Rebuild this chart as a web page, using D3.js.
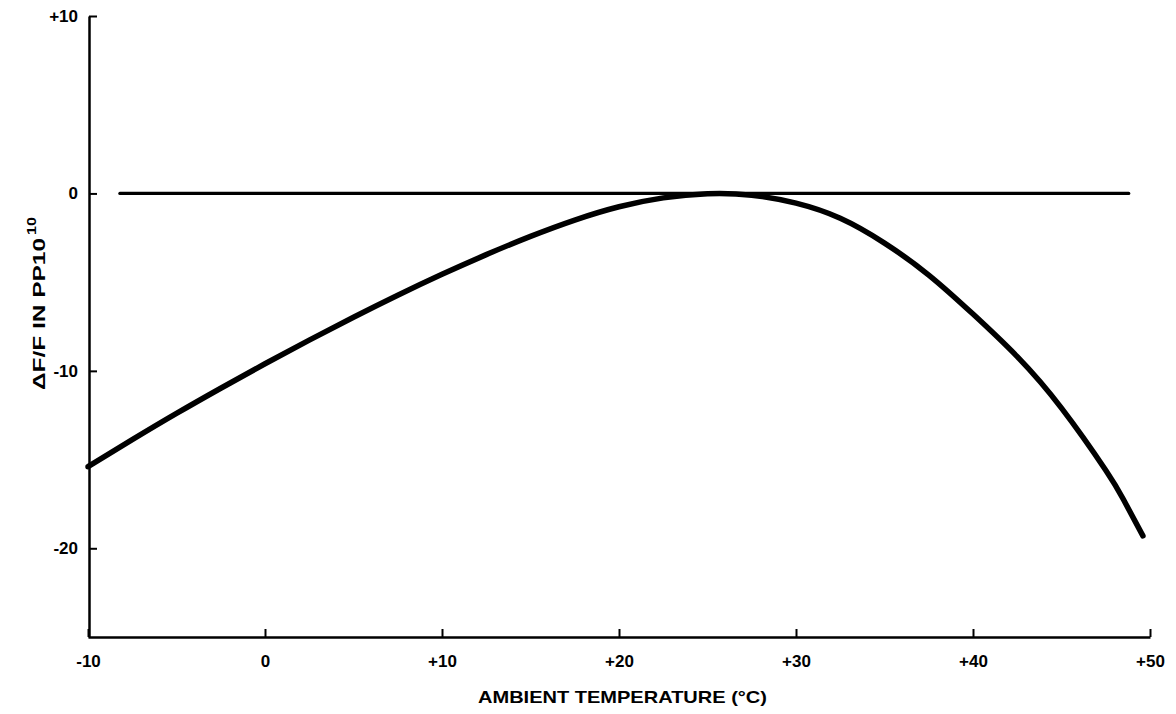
<!DOCTYPE html>
<html>
<head>
<meta charset="utf-8">
<script src="https://cdn.jsdelivr.net/npm/d3@7"></script>
<style>
  html, body { margin: 0; padding: 0; background: #fff; }
  svg { display: block; }
  text { font-family: "Liberation Sans", Arial, sans-serif; font-weight: bold; fill: #000; }
</style>
</head>
<body>
<svg id="chart" width="1176" height="714"></svg>
<script>
// Data
const temps  = [-10, -7.5, -5, -2.5, 0, 2.5, 5, 7.5, 10, 12.5, 15, 17.5, 20, 22.5, 25, 27.5, 30, 32.5, 35, 37.5, 40, 42.5, 45, 47.5, 48.5, 49.6];
const deltaF = [-15.4, -13.88, -12.4, -10.98, -9.6, -8.27, -6.98, -5.74, -4.56, -3.45, -2.42, -1.5, -0.75, -0.25, -0.02, -0.1, -0.55, -1.4, -2.8, -4.6, -6.8, -9.2, -12.1, -15.6, -17.25, -19.3];
const refLineTemps = [-8.2, 48.8];
const refLineValues = [0, 0];
const xTicks = [-10, 0, 10, 20, 30, 40, 50];
const yTicks = [-20, -10, 0, 10];
const xTitle = "AMBIENT TEMPERATURE (°C)";
const yTitleMain = "\u0394F/F IN PP10";
const yTitleSup = "10";

const svg = d3.select("#chart");
const x = d3.scaleLinear().domain([-10, 50]).range([88, 1150]);
const y = d3.scaleLinear().domain([-25, 10]).range([637, 16]);

const fmt = d => d > 0 ? "+" + d : (d < 0 ? "-" + Math.abs(d) : "0");

function styleTicks(g) {
  g.attr("font-size", null).attr("font-family", null);
  g.select(".domain").attr("stroke", "#000").attr("stroke-width", 2.5);
  g.selectAll(".tick line").attr("stroke", "#000").attr("stroke-width", 2);
  g.selectAll(".tick text")
    .style("font-size", "17px")
    .style("font-family", "'Liberation Sans', Arial, sans-serif")
    .style("font-weight", "bold");
}

// X axis
const gx = svg.append("g").attr("transform", `translate(0,${y(-25)})`)
  .call(d3.axisBottom(x).tickValues(xTicks).tickFormat(fmt).tickSizeInner(-8).tickSizeOuter(0).tickPadding(18));
styleTicks(gx);

// Y axis
const gy = svg.append("g").attr("transform", `translate(${x(-10) + 1},0)`)
  .call(d3.axisLeft(y).tickValues(yTicks).tickFormat(fmt).tickSizeInner(-8).tickSizeOuter(0).tickPadding(11));
styleTicks(gy);

// Reference zero line
const refData = refLineTemps.map((t, i) => [t, refLineValues[i]]);
svg.append("path").datum(refData)
  .attr("fill", "none").attr("stroke", "#000").attr("stroke-width", 3.2).attr("stroke-linecap", "round")
  .attr("d", d3.line().x(d => x(d[0])).y(d => y(d[1])));

// Curve
const curveData = temps.map((t, i) => [t, deltaF[i]]);
svg.append("path").datum(curveData)
  .attr("fill", "none").attr("stroke", "#000").attr("stroke-width", 5.5).attr("stroke-linecap", "round")
  .attr("d", d3.line().curve(d3.curveNatural).x(d => x(d[0])).y(d => y(d[1])));

// X title
svg.append("text").attr("x", 478).attr("y", 703)
  .attr("textLength", 289).attr("lengthAdjust", "spacingAndGlyphs")
  .style("font-size", "17px").text(xTitle);

// Y title (rotated)
const yg = svg.append("g").attr("transform", "translate(45,390) rotate(-90)");
yg.append("text").attr("x", 0).attr("y", 0)
  .attr("textLength", 152).attr("lengthAdjust", "spacingAndGlyphs")
  .style("font-size", "17px").text(yTitleMain);
yg.append("text").attr("x", 155).attr("y", -9)
  .attr("textLength", 18).attr("lengthAdjust", "spacingAndGlyphs")
  .style("font-size", "13px").text(yTitleSup);
</script>
</body>
</html>
